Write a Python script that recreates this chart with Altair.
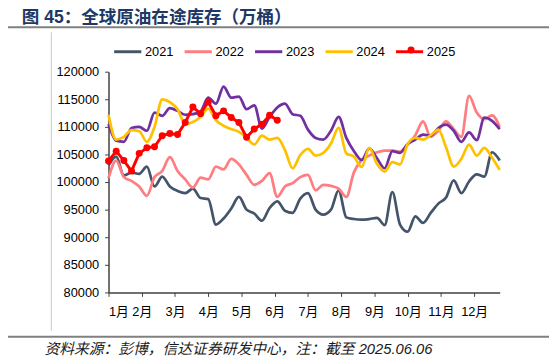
import json
import altair as alt
import pandas as pd

years = ['2021', '2022', '2023', '2024', '2025']
colors = ['#44546A', '#FF7C80', '#7030A0', '#FFC000', '#FF0000']
month_labels = ['1月', '2月', '3月', '4月', '5月', '6月', '7月', '8月', '9月', '10月', '11月', '12月']
y_ticks = [80000, 85000, 90000, 95000, 100000, 105000, 110000, 115000, 120000]

title_text = '图 45：全球原油在途库存（万桶）'
source_text = '资料来源：彭博，信达证券研发中心，注：截至 2025.06.06'

v2021 = [103000, 104600, 101200, 101700, 101500, 102800, 99200, 101000, 99200, 98400,
         98000, 98800, 97100, 96900, 92300, 93400, 95200, 97300, 95000, 94300,
         93000, 95300, 96500, 94800, 94400, 97000, 98000, 95000, 94100, 95000,
         98500, 93600, 93300, 93200, 93300, 93500, 92200, 98200, 92300, 91000,
         93800, 92600, 94400, 96100, 97200, 100300, 98000, 100100, 101400, 101000,
         105400, 103900]
v2022 = [100700, 103900, 100900, 100200, 99200, 97500, 100900, 102000, 104500, 102000,
         100500, 99000, 100800, 100500, 102800, 102300, 104200, 103200, 101300, 99500,
         100200, 101600, 97300, 99200, 99800, 100900, 101300, 98500, 99500, 99300,
         98800, 97300, 101800, 104000, 104800, 105400, 105700, 105700, 105500, 106800,
         108500, 111000, 108200, 109300, 111000, 109600, 108200, 115600, 112600, 111400,
         112100, 110000]
v2023 = [110500, 107500, 107300, 109800, 110000, 109300, 112600, 112000, 113400, 112900,
         112200, 112300, 112800, 115300, 114200, 117300, 115300, 115500, 113200, 113900,
         109700, 111800, 113500, 114200, 112300, 112000, 109500, 108000, 107700, 109300,
         111800, 108000, 105600, 104000, 106100, 104300, 102500, 105600, 105300, 106900,
         107700, 108600, 108400, 109800, 110400, 109300, 107300, 109000, 107600, 111700,
         111100, 109600]
v2024 = [112200, 107700, 108200, 109400, 109200, 107300, 110000, 115000, 114500, 113200,
         110500, 110900, 111800, 113300, 111200, 110200, 109600, 109100, 108000, 106800,
         108400, 107700, 108000, 105800, 102500, 104900, 106000, 104800, 105300, 107000,
         109800, 105200, 104600, 102700, 106200, 103300, 101900, 103600, 103200, 106900,
         108000, 107700, 108500, 109500, 106300, 102800, 104200, 106800, 104800, 106200,
         104400, 102200]
v2025 = [103800, 105600, 103900, 102000, 105200, 106200, 106400, 108400, 108800, 108600,
         110800, 113600, 112400, 114500, 112000, 112900, 111700, 110800, 108100, 109600,
         110500, 112100, 111200]

rows = []
for yr, vals in zip(years, [v2021, v2022, v2023, v2024, v2025]):
    for i, v in enumerate(vals):
        rows.append({'year': yr, 'week': i, 'value': v})
df = pd.DataFrame(rows)

month_ticks = [i * 52 / 12 for i in range(12)]
label_expr = json.dumps(month_labels, ensure_ascii=False) + '[round(datum.value * 12 / 52)]'

FONT = 'Liberation Sans, Arial, Noto Sans CJK SC'

x_enc = alt.X('week:Q', scale=alt.Scale(domain=[0, 51], nice=False, zero=False),
              axis=alt.Axis(values=month_ticks, labelExpr=label_expr, title=None,
                            labelFlush=True, tickSize=4, labelPadding=9,
                            labelFontSize=13, labelFont=FONT, labelColor='#000000',
                            domainColor='#404040', tickColor='#404040', domainWidth=1.5,
                            labelAngle=0))
y_enc = alt.Y('value:Q', scale=alt.Scale(domain=[80000, 120000], nice=False, zero=False),
              axis=alt.Axis(values=y_ticks, format='d', title=None, tickSize=4,
                            labelPadding=6, labelFontSize=13, labelFont=FONT,
                            labelColor='#000000', domainColor='#404040',
                            tickColor='#404040', domainWidth=1.5))

legend = alt.Legend(
    orient='none', legendX=4, legendY=-36, direction='horizontal', title=None,
    symbolType='stroke', symbolSize=760, symbolStrokeWidth=3,
    labelFontSize=13, labelFont=FONT, labelColor='#000000',
    columnPadding=4.5, labelOffset=2)

color_enc = alt.Color('year:N', scale=alt.Scale(domain=years, range=colors), legend=legend)

base = alt.Chart(df)
lines = base.transform_filter(alt.datum.year != '2025').mark_line(
    interpolate='monotone', strokeWidth=2.75).encode(x=x_enc, y=y_enc, color=color_enc,
                                                      detail='year:N')
line25 = base.transform_filter(alt.datum.year == '2025').mark_line(
    strokeWidth=3).encode(x=x_enc, y=y_enc, color=color_enc)

dot_legend = alt.Legend(orient='none', legendX=303, legendY=-26, title=None,
                        labelFontSize=1, labelOpacity=0, symbolFillColor='#FF0000',
                        symbolStrokeColor='#FF0000', symbolStrokeWidth=0, symbolSize=50,
                        symbolOpacity=1)
pts25 = base.transform_filter(alt.datum.year == '2025').transform_calculate(
    marker='datum.year').mark_point(filled=True, size=50, opacity=1, color='#FF0000').encode(
    x=x_enc, y=y_enc,
    shape=alt.Shape('marker:N', scale=alt.Scale(domain=['2025'], range=['circle']),
                    legend=dot_legend))

one = pd.DataFrame({'t': [title_text], 's': [source_text]})
deco = alt.Chart(one)
title_mark = deco.mark_text(align='left', baseline='middle', fontSize=17.8, fontWeight='bold',
                            font=FONT, color='#203864').encode(
    text='t:N', x=alt.value(-88), y=alt.value(-54))
source_mark = deco.mark_text(align='left', baseline='middle', fontSize=15, fontStyle='italic',
                             font=FONT, color='#1a1a1a').encode(
    text='s:N', x=alt.value(-65), y=alt.value(281))
top_rule = deco.mark_rule(color='#808080', strokeWidth=2).encode(
    x=alt.value(-105), x2=alt.value(447), y=alt.value(-45))
bottom_rule = deco.mark_rule(color='#808080', strokeWidth=2).encode(
    x=alt.value(-105), x2=alt.value(447), y=alt.value(269))
side_rule = deco.mark_rule(color='#C8C8C8', strokeWidth=1).encode(
    x=alt.value(-58), y=alt.value(-40), y2=alt.value(263))

chart = alt.layer(top_rule, bottom_rule, side_rule, title_mark, source_mark,
                  lines, line25, pts25).properties(
    width=397, height=224,
    padding={'left': 102, 'top': 62, 'right': 50, 'bottom': 70},
    autosize=alt.AutoSizeParams(type='none'),
    background='white'
).configure_view(stroke=None).configure_axis(grid=False)

chart.save('out.html', embed_options={'renderer': 'svg', 'actions': False})
